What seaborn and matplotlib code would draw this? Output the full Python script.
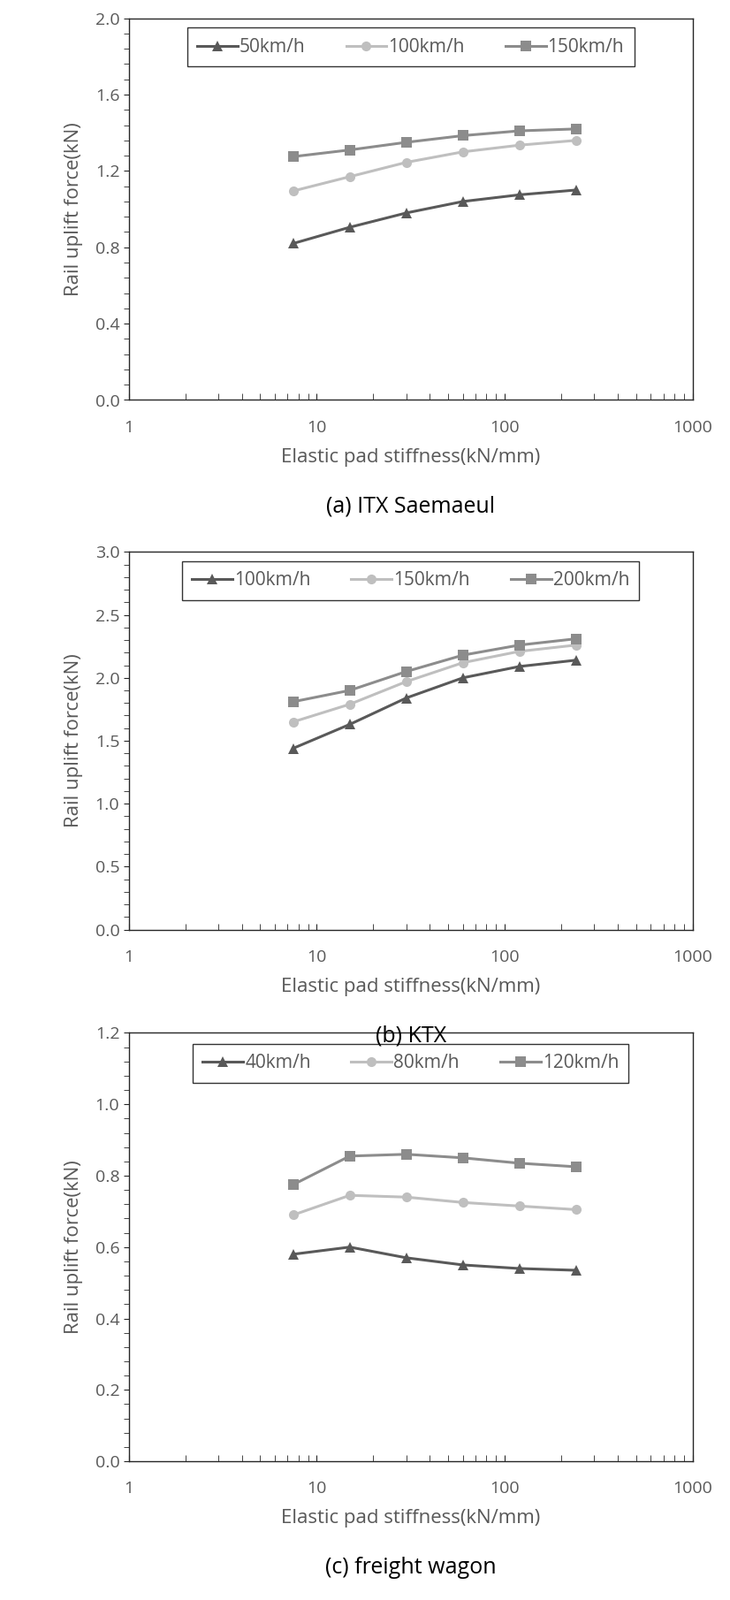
import matplotlib
matplotlib.use('Agg')
import matplotlib.pyplot as plt
import seaborn as sns
import pandas as pd
import numpy as np
from matplotlib.ticker import MultipleLocator, LogLocator, NullFormatter

plt.rcParams['font.family'] = 'Open Sans'

stiffness = [7.5, 15, 30, 60, 120, 240]

# (a) ITX Saemaeul
itx_speeds = ['50km/h', '100km/h', '150km/h']
itx_50 = [0.82, 0.905, 0.98, 1.04, 1.075, 1.10]
itx_100 = [1.095, 1.17, 1.245, 1.30, 1.335, 1.36]
itx_150 = [1.275, 1.31, 1.35, 1.385, 1.41, 1.42]

# (b) KTX
ktx_speeds = ['100km/h', '150km/h', '200km/h']
ktx_100 = [1.44, 1.63, 1.84, 2.00, 2.09, 2.14]
ktx_150 = [1.65, 1.79, 1.97, 2.12, 2.21, 2.26]
ktx_200 = [1.81, 1.90, 2.05, 2.18, 2.26, 2.31]

# (c) freight wagon
fw_speeds = ['40km/h', '80km/h', '120km/h']
fw_40 = [0.58, 0.60, 0.57, 0.55, 0.54, 0.535]
fw_80 = [0.69, 0.745, 0.74, 0.725, 0.715, 0.705]
fw_120 = [0.775, 0.855, 0.86, 0.85, 0.835, 0.825]

panels = [
    ('(a) ITX Saemaeul', itx_speeds, [itx_50, itx_100, itx_150], 2.0, 0.4),
    ('(b) KTX', ktx_speeds, [ktx_100, ktx_150, ktx_200], 3.0, 0.5),
    ('(c) freight wagon', fw_speeds, [fw_40, fw_80, fw_120], 1.2, 0.2),
]

colors = ['#595959', '#bfbfbf', '#8c8c8c']
markers = ['^', 'o', 's']
txt = '#595959'

W, H = 720, 1580
# axes boxes in pixels: (top, bottom)
boxes = [(18, 395), (545, 918), (1020, 1443)]
left, right = 127, 683

fig = plt.figure(figsize=(8.26, 18.10), dpi=100)
for (title, speeds, series, ymax, ystep), (top, bot) in zip(panels, boxes):
    ax = fig.add_axes([left / W, 1 - bot / H, (right - left) / W, (bot - top) / H])
    rows = []
    for sp, vals in zip(speeds, series):
        for x, v in zip(stiffness, vals):
            rows.append({'x': x, 'y': v, 'speed': sp})
    df = pd.DataFrame(rows)
    sns.lineplot(data=df, x='x', y='y', hue='speed', style='speed',
                 palette=colors, markers=markers, dashes=False,
                 markersize=8, linewidth=2.2, markeredgewidth=0, ax=ax)
    ax.set_xscale('log')
    ax.set_xlim(1, 1000)
    ax.set_ylim(0, ymax)
    ax.yaxis.set_major_locator(MultipleLocator(ystep))
    ax.yaxis.set_minor_locator(MultipleLocator(ystep / 5))
    ax.set_yticklabels([f'{t:.1f}' for t in ax.get_yticks()])
    ax.xaxis.set_minor_locator(LogLocator(base=10, subs=np.arange(2, 10)))
    ax.xaxis.set_minor_formatter(NullFormatter())
    ax.set_xticks([1, 10, 100, 1000])
    ax.set_xticklabels(['1', '10', '100', '1000'])
    ax.tick_params(axis='x', which='both', direction='in', length=5, pad=16,
                   colors='#262626', labelcolor=txt, labelsize=14)
    ax.tick_params(axis='y', which='both', direction='out', length=4,
                   colors='#262626', labelcolor=txt, labelsize=14)
    for s in ax.spines.values():
        s.set_color('#262626')
        s.set_linewidth(1)
    ax.set_xlabel('Elastic pad stiffness(kN/mm)', fontsize=16, color=txt, labelpad=10)
    ax.set_ylabel('Rail uplift force(kN)', fontsize=16, color=txt, labelpad=10)
    leg = ax.legend(title=None, ncol=3, loc='upper center', bbox_to_anchor=(0.5, 0.975),
                    frameon=True, fancybox=False, edgecolor='black', fontsize=15,
                    handlelength=2.2, handletextpad=0.1, columnspacing=2.2,
                    borderpad=0.55, borderaxespad=0)
    for t in leg.get_texts():
        t.set_color(txt)
    leg.get_frame().set_linewidth(1)
    fig.text((left + right) / 2 / W, 1 - (bot + 105) / H, title, ha='center', va='center',
             fontsize=18, color='black')

fig.savefig('out.png', dpi=100)
